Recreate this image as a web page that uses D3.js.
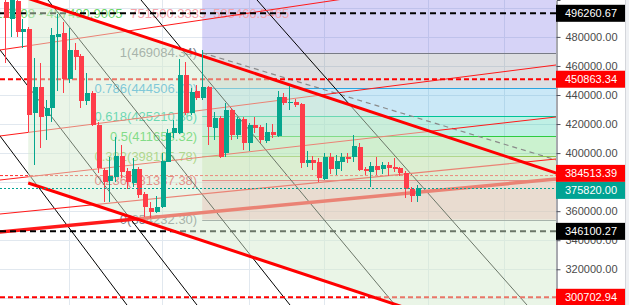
<!DOCTYPE html>
<html>
<head>
<meta charset="utf-8">
<script src="https://cdn.jsdelivr.net/npm/d3@7/dist/d3.min.js"></script>
<style>
  html, body { margin: 0; padding: 0; background: #fff; overflow: hidden; }
  svg { display: block; font-family: "Liberation Sans", Arial, sans-serif; }
</style>
</head>
<body>
<svg id="chart" width="629" height="305"></svg>
<script>
// candles, one per bar index
const opens  = [504040, 492340, 504730, 483590, 485240, 427400, 445300, 425750, 430840, 480150,
                482490, 451020, 470990, 466860, 436080, 441170, 419340, 388360, 380990, 383740,
                398000, 387870, 379610, 389050, 371830, 362190, 359640, 362670, 394070, 413630,
                413630, 453770, 427400, 442760, 437730, 445300, 417480, 423960, 399860, 429670,
                412460, 423270, 406740, 419340, 418170, 408530, 414730, 411770, 438830, 434290,
                435390, 433800, 393380, 395240, 394070, 382160, 397100, 389050, 394070, 397100,
                397100, 404400, 389050, 387190, 391110, 389050, 391800, 390630, 389530, 386500,
                375070, 370450];
const highs  = [508860, 509550, 508170, 492340, 486830, 465270, 462040, 436560, 485930, 495780,
                490270, 486140, 475810, 468230, 455360, 442760, 421410, 389730, 397510, 411290,
                405570, 389730, 396410, 390420, 373210, 366320, 370450, 400060, 416590, 422790,
                464580, 462930, 444820, 446890, 470990, 446200, 428500, 425540, 434700, 431050,
                425060, 424850, 420930, 424650, 419340, 420510, 420030, 442960, 441590, 446200,
                437250, 434490, 401650, 398000, 396410, 399860, 399860, 398690, 399860, 400270,
                412460, 406740, 390630, 394070, 397100, 393660, 394070, 396410, 390630, 387670,
                376440, 378030];
const lows   = [462040, 479940, 480150, 472370, 414730, 391800, 403510, 409010, 421620, 442760,
                441380, 448260, 457220, 431050, 433120, 418650, 386290, 366530, 366530, 380300,
                382640, 375070, 376860, 368870, 355650, 355300, 358750, 362190, 393870, 410390,
                413150, 426230, 426230, 436560, 436560, 405570, 409010, 396410, 397510, 409010,
                409500, 402130, 401650, 413630, 406740, 406740, 410190, 410870, 433120, 429670,
                431740, 389530, 390630, 388360, 380300, 381470, 385600, 384910, 387870, 392970,
                394070, 387670, 384910, 376860, 384910, 385600, 384220, 387190, 384220, 368870,
                366530, 366530];
const closes = [493020, 505420, 483590, 485450, 426230, 445300, 425060, 430840, 481320, 482210,
                451020, 470990, 466370, 436080, 441170, 419340, 389530, 380300, 384430, 398000,
                387190, 380300, 389050, 371140, 362670, 359640, 362880, 394550, 413630, 417280,
                453770, 427400, 442270, 437730, 445300, 417760, 423960, 397510, 429670, 412460,
                423270, 406740, 419340, 417480, 409010, 414730, 412460, 438830, 434290, 435390,
                433120, 393380, 395240, 393380, 382640, 397100, 389050, 394550, 397100, 395720,
                404880, 388360, 387870, 391110, 388360, 391800, 389530, 388840, 386500, 375070,
                370450, 375820];

// price axis
const tickValues = [300000, 320000, 340000, 360000, 380000, 400000, 420000, 440000, 460000, 480000, 500000];
const gridIndexes = [11, 27, 42, 55, 73, 86];

// horizontal price lines and the last price
const priceLineValues = [496260.67, 450863.34, 384513.39, 346100.27, 300702.94];
const priceLineKinds = ['black', 'red', 'redDotted', 'black', 'red'];
const lastPrice = 375820.00;

// fib retracement
const fibLevels = [0, 0.236, 0.382, 0.5, 0.618, 0.786, 1, 1.618];
const fibLowPrice = 354232.30;
const fibHighPrice = 469084.34;
const fibAnchorIndexes = [34, 129];

// descending parallel channel [index, price]
const channelTopLine = [[4, 506500], [95, 386300]];
const channelBottomLine = [[4, 379400], [95, 259200]];

// rising trend lines [index, price] -> [index, price]
const risingStarts = [[-0.86, 470990], [-0.86, 411770], [-0.86, 381470], [-0.86, 358060], [-0.86, 345660]];
const risingEnds   = [[57.2, 505420], [95, 460660], [95, 424850], [95, 395930], [95, 382160]];

// steep descending lines
const steepStarts = [[-0.86, 411770], [-0.86, 470990], [7.41, 505420], [23.45, 505420], [43.45, 505420]];
const steepEnds   = [[21.03, 295400], [33.1, 295400], [49.14, 295400], [67.24, 295400], [90.0, 295400]];

// text found at the top left of the chart
const topTexts = ['1.6208 - 457480.9005', '751500.3335', '585466.5465'];
const topTextPrices = [496500, 496500, 496500];
const topTextIndexes = [-1.7, 21.6, 35.9];

// ---- styles ----
const upColor = '#05a68e';
const downColor = '#ff3d4a';
const gridColor = '#e1e8ef';
const fibColors = ['#787b86', '#f23645', '#8bc34a', '#2ecc40', '#00c497', '#2aa5e0', '#787b86', '#5b4fe0'];
const priceLineStyles = {
  black: {color: '#000000', dash: '6,4', width: 2},
  red: {color: '#ff0000', dash: '5,3', width: 2},
  redDotted: {color: '#ff2a2a', dash: '3,2', width: 1}
};
const risingWidths = [1, 1, 1, 1.2, 3.5];
const topTextColors = ['#6bd66b', '#f5a3ab', '#f5a3ab'];

const width = 629, height = 305;
const plotRight = 556;
const axisRight = 625;
const boxH = 17;

const svg = d3.select('#chart');

const xScale = d3.scaleLinear().domain([0, opens.length - 1]).range([5, 416.8]);
const yScale = d3.scaleLinear().domain([295395, 505418]).range([height, 0]);

svg.append('rect').attr('width', width).attr('height', height).attr('fill', '#ffffff');

svg.append('clipPath').attr('id', 'plot-clip')
  .append('rect').attr('x', 0).attr('y', 0).attr('width', plotRight).attr('height', height);

const plot = svg.append('g').attr('clip-path', 'url(#plot-clip)');

function extended(p1, p2, back, forward) {
  const x1 = xScale(p1[0]), y1 = yScale(p1[1]);
  const x2 = xScale(p2[0]), y2 = yScale(p2[1]);
  const len = Math.hypot(x2 - x1, y2 - y1);
  const ux = (x2 - x1) / len, uy = (y2 - y1) / len;
  return [[x1 - ux * back, y1 - uy * back], [x2 + ux * forward, y2 + uy * forward]];
}

function createGrid() {
  const g = plot.append('g').attr('id', 'grid');
  g.selectAll('line.h').data(tickValues).join('line')
    .attr('class', 'h')
    .attr('x1', 0).attr('x2', plotRight)
    .attr('y1', d => Math.round(yScale(d)) + 0.5).attr('y2', d => Math.round(yScale(d)) + 0.5)
    .attr('stroke', gridColor);
  g.selectAll('line.v').data(gridIndexes).join('line')
    .attr('class', 'v')
    .attr('y1', 0).attr('y2', height)
    .attr('x1', d => Math.round(xScale(d)) + 0.5).attr('x2', d => Math.round(xScale(d)) + 0.5)
    .attr('stroke', gridColor);
}

function fibPrice(level) {
  return fibLowPrice + level * (fibHighPrice - fibLowPrice);
}

function createFib() {
  const g = plot.append('g').attr('id', 'fib');
  const x0 = xScale(fibAnchorIndexes[0]);
  const bands = fibLevels.slice(1).map((lv, k) => ({lower: fibLevels[k], upper: lv, color: fibColors[k + 1]}));

  g.selectAll('rect').data(bands).join('rect')
    .attr('x', x0)
    .attr('width', plotRight - x0)
    .attr('y', d => yScale(fibPrice(d.upper)))
    .attr('height', d => yScale(fibPrice(d.lower)) - yScale(fibPrice(d.upper)))
    .attr('fill', d => d.color)
    .attr('fill-opacity', 0.25);

  const shown = fibLevels.map((lv, k) => ({level: lv, color: fibColors[k]}))
    .filter(d => fibPrice(d.level) < yScale.domain()[1]);

  g.selectAll('line.level').data(shown).join('line')
    .attr('class', 'level')
    .attr('x1', x0).attr('x2', plotRight)
    .attr('y1', d => Math.round(yScale(fibPrice(d.level))) + 0.5)
    .attr('y2', d => Math.round(yScale(fibPrice(d.level))) + 0.5)
    .attr('stroke', d => d.color)
    .attr('stroke-width', 1.2);

  g.selectAll('text').data(shown).join('text')
    .attr('x', x0 - 5)
    .attr('y', d => yScale(fibPrice(d.level)))
    .attr('dy', '0.36em')
    .attr('text-anchor', 'end')
    .attr('font-size', '13px')
    .attr('fill', d => d.color)
    .text(d => `${d.level}(${d3.format('.2f')(fibPrice(d.level))})`);

  // dashed trend line between the two fib anchors
  const pts = [[xScale(fibAnchorIndexes[0]), yScale(fibHighPrice)], [xScale(fibAnchorIndexes[1]), yScale(fibLowPrice)]];
  g.append('path')
    .attr('d', d3.line()(pts))
    .attr('stroke', '#8a8a8a')
    .attr('stroke-width', 1.2)
    .attr('stroke-dasharray', '5,4')
    .attr('fill', 'none');
}

function createTopTexts() {
  plot.append('g').attr('id', 'top-texts')
    .selectAll('text').data(topTexts).join('text')
    .attr('x', (d, k) => xScale(topTextIndexes[k]))
    .attr('y', (d, k) => yScale(topTextPrices[k]))
    .attr('dy', '0.36em')
    .attr('font-size', '13px')
    .attr('fill', (d, k) => topTextColors[k])
    .text(d => d);
}

function createDrawings() {
  const g = plot.append('g').attr('id', 'drawings');

  g.selectAll('path.steep').data(steepStarts).join('path')
    .attr('class', 'steep')
    .attr('d', (d, k) => d3.line()(extended(d, steepEnds[k], 600, 600)))
    .attr('stroke', '#000000')
    .attr('stroke-width', 1)
    .attr('fill', 'none');

  g.selectAll('path.rising').data(risingStarts).join('path')
    .attr('class', 'rising')
    .attr('d', (d, k) => d3.line()(extended(d, risingEnds[k], 100, 600)))
    .attr('stroke', '#ff1a1a')
    .attr('stroke-width', (d, k) => risingWidths[k])
    .attr('fill', 'none');

  g.selectAll('line.price').data(priceLineValues).join('line')
    .attr('class', 'price')
    .attr('x1', 0).attr('x2', plotRight)
    .attr('y1', d => yScale(d)).attr('y2', d => yScale(d))
    .attr('stroke', (d, k) => priceLineStyles[priceLineKinds[k]].color)
    .attr('stroke-width', (d, k) => priceLineStyles[priceLineKinds[k]].width)
    .attr('stroke-dasharray', (d, k) => priceLineStyles[priceLineKinds[k]].dash);
}

function createChannel() {
  const g = plot.append('g').attr('id', 'channel');
  const top = extended(channelTopLine[0], channelTopLine[1], 0, 1500);
  const bottom = extended(channelBottomLine[0], channelBottomLine[1], 0, 1500);
  g.append('path')
    .attr('d', d3.line()([top[0], top[1], bottom[1], bottom[0]]) + 'Z')
    .attr('fill', 'rgb(214,236,208)')
    .attr('fill-opacity', 0.5);
  g.append('path')
    .attr('d', d3.line()(extended(channelTopLine[0], channelTopLine[1], 300, 1500)))
    .attr('stroke', '#ff0000').attr('stroke-width', 3).attr('fill', 'none');
  g.append('path')
    .attr('d', d3.line()(bottom))
    .attr('stroke', '#ff0000').attr('stroke-width', 3).attr('fill', 'none');
}

function createCandles() {
  const g = plot.append('g').attr('id', 'candles').attr('shape-rendering', 'crispEdges');
  const idx = d3.range(opens.length);
  const col = i => closes[i] >= opens[i] ? upColor : downColor;
  g.selectAll('line').data(idx).join('line')
    .attr('x1', i => Math.round(xScale(i)) + 0.5).attr('x2', i => Math.round(xScale(i)) + 0.5)
    .attr('y1', i => yScale(highs[i])).attr('y2', i => yScale(lows[i]))
    .attr('stroke', col);
  g.selectAll('rect').data(idx).join('rect')
    .attr('x', i => Math.round(xScale(i)) - 1.5)
    .attr('width', 5)
    .attr('y', i => yScale(Math.max(opens[i], closes[i])))
    .attr('height', i => Math.max(1, Math.abs(yScale(opens[i]) - yScale(closes[i]))))
    .attr('fill', col);
}

function createLastPriceLine() {
  plot.append('line')
    .attr('x1', 0).attr('x2', plotRight)
    .attr('y1', Math.round(yScale(lastPrice)) + 0.5).attr('y2', Math.round(yScale(lastPrice)) + 0.5)
    .attr('stroke', '#00a393')
    .attr('stroke-dasharray', '2,2');
}

function priceLabels() {
  // coloured price labels, pushed apart where they overlap
  const labels = priceLineValues.map((v, k) => ({value: v, kind: priceLineKinds[k]}))
    .concat([{value: lastPrice, kind: 'last'}])
    .map(d => ({...d, y: yScale(d.value)}))
    .sort((a, b) => a.y - b.y);
  for (let k = 1; k < labels.length; k++) {
    const overlap = boxH - (labels[k].y - labels[k - 1].y);
    if (overlap > 0) {
      labels[k - 1].y -= overlap / 2;
      labels[k].y += overlap / 2;
    }
  }
  return labels;
}

function createPriceAxis() {
  const labels = priceLabels();
  const g = svg.append('g').attr('id', 'price-axis');
  g.append('rect').attr('x', plotRight).attr('width', width - plotRight).attr('height', height).attr('fill', '#ffffff');
  g.append('rect').attr('x', axisRight).attr('width', width - axisRight).attr('height', height).attr('fill', '#eff1f4');
  g.append('line').attr('x1', axisRight + 0.5).attr('x2', axisRight + 0.5).attr('y1', 0).attr('y2', height).attr('stroke', '#d4d6db');

  // tick labels that sit under a coloured label are not drawn
  const visibleTicks = tickValues.filter(v => labels.every(l => Math.abs(yScale(v) - l.y) >= boxH / 2));

  const axis = d3.axisRight(yScale).tickValues(tickValues).tickSize(4).tickPadding(5)
    .tickFormat(v => visibleTicks.includes(v) ? d3.format('.2f')(v) : '');
  const ag = g.append('g').attr('transform', `translate(${plotRight + 0.5},0)`).call(axis);
  ag.select('.domain').attr('stroke', '#50535e');
  ag.selectAll('.tick line').attr('stroke', '#50535e');
  ag.selectAll('.tick text').attr('fill', '#4a4a4a').attr('font-size', '11px')
    .attr('font-family', '"Liberation Sans", Arial, sans-serif');

  const boxColors = {black: '#000000', red: '#ff0000', redDotted: '#ff0000', last: '#00a393'};
  const lg = g.selectAll('g.label').data(labels).join('g')
    .attr('class', 'label')
    .attr('transform', d => `translate(${plotRight},${d.y})`);
  lg.append('rect')
    .attr('x', 0).attr('y', -boxH / 2)
    .attr('width', axisRight - plotRight).attr('height', boxH)
    .attr('fill', d => boxColors[d.kind]);
  lg.append('text')
    .attr('x', 9).attr('dy', '0.36em')
    .attr('font-size', '11px')
    .attr('fill', '#ffffff')
    .text(d => d3.format('.2f')(d.value));
}

createGrid();
createFib();
createTopTexts();
createDrawings();
createChannel();
createCandles();
createLastPriceLine();
createPriceAxis();
</script>
</body>
</html>
